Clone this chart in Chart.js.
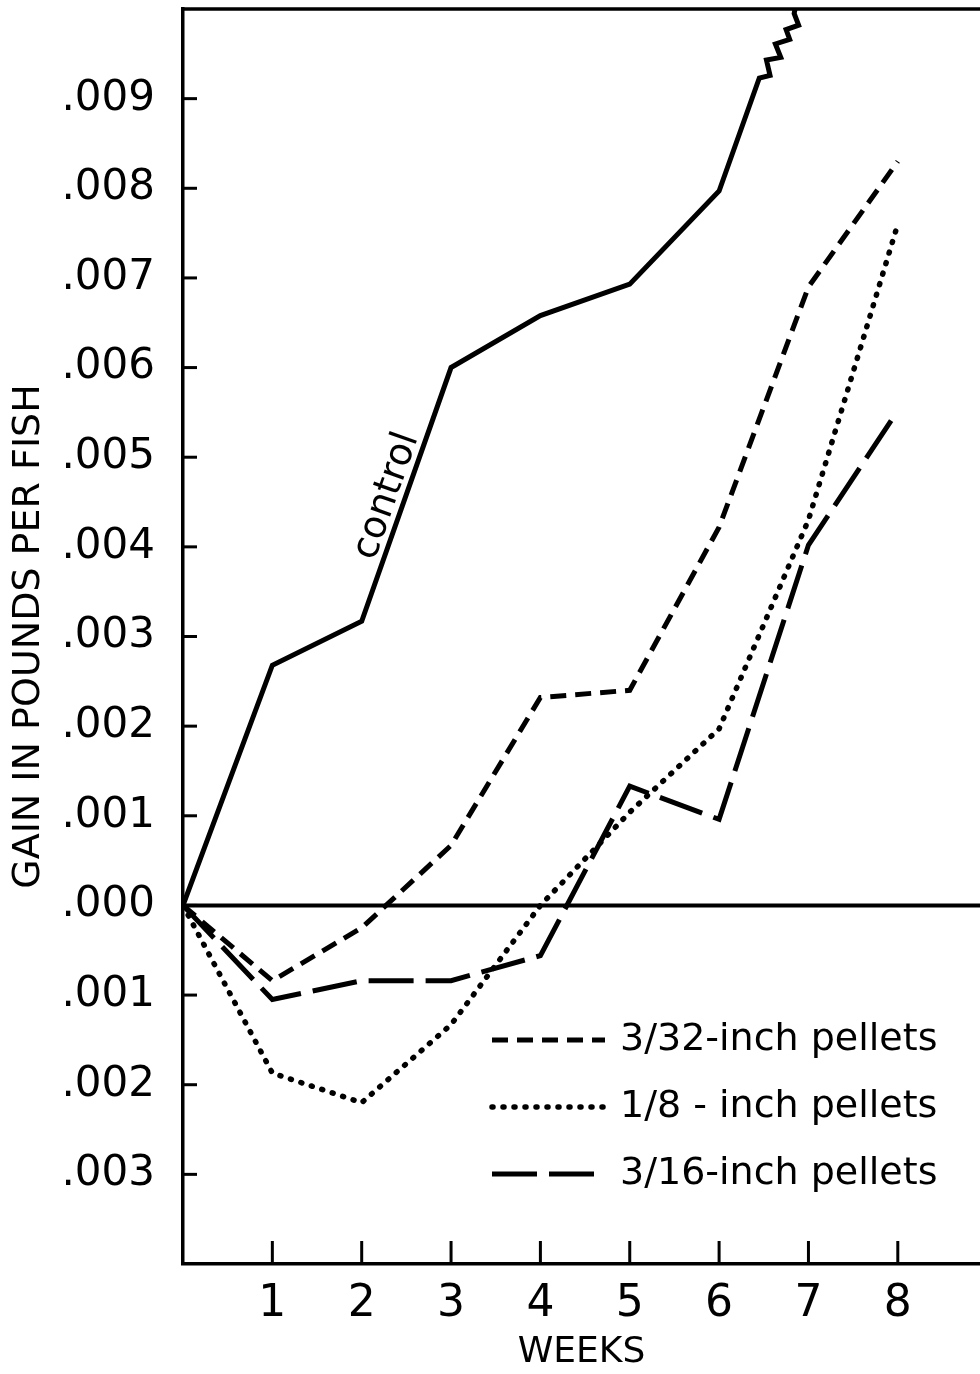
<!DOCTYPE html>
<html>
<head>
<meta charset="utf-8">
<title>Gain in pounds per fish</title>
<script src="https://cdn.jsdelivr.net/npm/chart.js@4.4.1/dist/chart.umd.min.js"></script>
<style>
  html, body { margin: 0; padding: 0; background: #fff; }
  #wrap { width: 980px; height: 1374px; }
</style>
</head>
<body>
<div id="wrap"><canvas id="gainChart" width="980" height="1374"></canvas></div>
<script>
// data
const weeks = [0, 1, 2, 3, 4, 5, 6, 7, 8];

// control line runs off the top, with a zigzag break after week 6
const controlWeeks = [0, 1, 2, 3, 4, 5, 6, 6.45, 6.57, 6.53, 6.69, 6.63, 6.79, 6.75, 6.89, 6.84, 6.85];
const controlGain = [0, 0.00268, 0.00317, 0.0060, 0.00658, 0.00693, 0.00797, 0.00923, 0.00926, 0.00943, 0.00946, 0.00961, 0.00966, 0.00977, 0.00982, 0.00995, 0.0100];

const gain332 = [0, -0.00084, -0.00025, 0.00067, 0.00232, 0.0024, 0.00422, 0.0069, 0.0083];
const gain18 = [0, -0.00187, -0.0022, -0.00133, 0.0, 0.00104, 0.00197, 0.0043, 0.0076];
const gain316 = [0, -0.00105, -0.00084, -0.00084, -0.00056, 0.00133, 0.00096, 0.00402, 0.00552];

const seriesLabels = ["control", "3/32-inch pellets", "1/8 - inch pellets", "3/16-inch pellets"];
const yTicks = [0.009, 0.008, 0.007, 0.006, 0.005, 0.004, 0.003, 0.002, 0.001, 0, -0.001, -0.002, -0.003];
const xTicks = [1, 2, 3, 4, 5, 6, 7, 8];

const FONT = "'DejaVu Sans', sans-serif";

function toPoints(xs, ys) {
  return xs.map((w, i) => ({ x: w, y: ys[i] }));
}

// axis frame: top line, zero line, inward tick marks
const framePlugin = {
  id: "frame",
  beforeDatasetsDraw(chart) {
    const { ctx, chartArea: a, scales: { x, y } } = chart;
    ctx.save();
    ctx.strokeStyle = "#000";
    ctx.lineCap = "butt";
    function seg(x1, y1, x2, y2, w) {
      ctx.lineWidth = w;
      ctx.beginPath();
      ctx.moveTo(x1, y1);
      ctx.lineTo(x2, y2);
      ctx.stroke();
    }
    seg(a.left, a.top, a.right, a.top, 3.5);
    const y0 = y.getPixelForValue(0);
    seg(a.left, y0, a.right, y0, 4);
    yTicks.forEach((v) => {
      const py = y.getPixelForValue(v);
      seg(a.left, py, a.left + 14, py, 3);
    });
    xTicks.forEach((v) => {
      const px = x.getPixelForValue(v);
      seg(px, a.bottom, px, a.bottom - 23, 3);
    });
    ctx.restore();
  },
};

// legend inside the plot + "control" label along its line
const notesPlugin = {
  id: "notes",
  afterDatasetsDraw(chart) {
    const { ctx } = chart;
    ctx.save();
    ctx.fillStyle = "#000";
    ctx.strokeStyle = "#000";

    const rows = [1040, 1107, 1174];
    chart.data.datasets.slice(1).forEach((ds, i) => {
      const yy = rows[i];
      ctx.lineWidth = ds.borderWidth;
      ctx.lineCap = ds.borderCapStyle || "butt";
      ctx.setLineDash(ds.borderDash || []);
      ctx.beginPath();
      ctx.moveTo(492, yy);
      ctx.lineTo(605, yy);
      ctx.stroke();
      ctx.setLineDash([]);
      ctx.font = "38px " + FONT;
      ctx.textAlign = "left";
      ctx.textBaseline = "middle";
      ctx.fillText(ds.label, 620, yy);
    });

    const pts = chart.getDatasetMeta(0).data;
    const p2 = pts[2], p3 = pts[3];
    const ang = Math.atan2(p3.y - p2.y, p3.x - p2.x);
    ctx.translate((p2.x + p3.x) / 2, (p2.y + p3.y) / 2);
    ctx.rotate(ang);
    ctx.font = "38px " + FONT;
    ctx.textAlign = "center";
    ctx.textBaseline = "alphabetic";
    ctx.fillText(seriesLabels[0], -8, -8);
    ctx.restore();
  },
};

const ctx = document.getElementById("gainChart");

new Chart(ctx, {
  type: "line",
  data: {
    datasets: [
      {
        label: seriesLabels[0],
        data: toPoints(controlWeeks, controlGain),
        borderColor: "#000",
        borderWidth: 5,
        borderJoinStyle: "miter",
      },
      {
        label: seriesLabels[1],
        data: toPoints(weeks, gain332),
        borderColor: "#000",
        borderWidth: 5,
        borderDash: [16, 9],
      },
      {
        label: seriesLabels[2],
        data: toPoints(weeks, gain18),
        borderColor: "#000",
        borderWidth: 5.5,
        borderDash: [1, 10],
        borderCapStyle: "round",
      },
      {
        label: seriesLabels[3],
        data: toPoints(weeks, gain316),
        borderColor: "#000",
        borderWidth: 5,
        borderDash: [45, 12],
      },
    ],
  },
  options: {
    responsive: false,
    animation: false,
    devicePixelRatio: 1,
    layout: { padding: { top: 9, left: 0, right: 0, bottom: 0 } },
    elements: { point: { radius: 0 }, line: { tension: 0, fill: false } },
    plugins: { legend: { display: false }, tooltip: { enabled: false } },
    scales: {
      x: {
        type: "linear",
        min: 0,
        max: 8.92,
        afterBuildTicks: (s) => { s.ticks = xTicks.map((v) => ({ value: v })); },
        afterFit: (s) => {
          s.height = 110;
          s.paddingLeft = 0;
          s.paddingRight = 0;
        },
        grid: { display: false },
        border: { display: true, color: "#000", width: 3.5 },
        ticks: { color: "#000", padding: 6, maxRotation: 0, font: { family: FONT, size: 44 } },
        title: {
          display: true,
          text: "WEEKS",
          color: "#000",
          padding: { top: 0, bottom: 0 },
          font: { family: FONT, size: 36 },
        },
      },
      y: {
        type: "linear",
        min: -0.004,
        max: 0.01,
        afterBuildTicks: (s) => { s.ticks = yTicks.map((v) => ({ value: v })); },
        afterFit: (s) => {
          s.width = 183;
          s.paddingTop = 0;
          s.paddingBottom = 0;
        },
        grid: { display: false },
        border: { display: true, color: "#000", width: 3.5 },
        ticks: {
          color: "#000",
          padding: 20,
          font: { family: FONT, size: 42 },
          callback: (v) => Math.abs(v).toFixed(3).replace(/^0/, ""),
        },
        title: {
          display: true,
          text: "GAIN IN POUNDS PER FISH",
          color: "#000",
          padding: { top: 6, bottom: 0 },
          font: { family: FONT, size: 38 },
        },
      },
    },
  },
  plugins: [framePlugin, notesPlugin],
});
</script>
</body>
</html>
